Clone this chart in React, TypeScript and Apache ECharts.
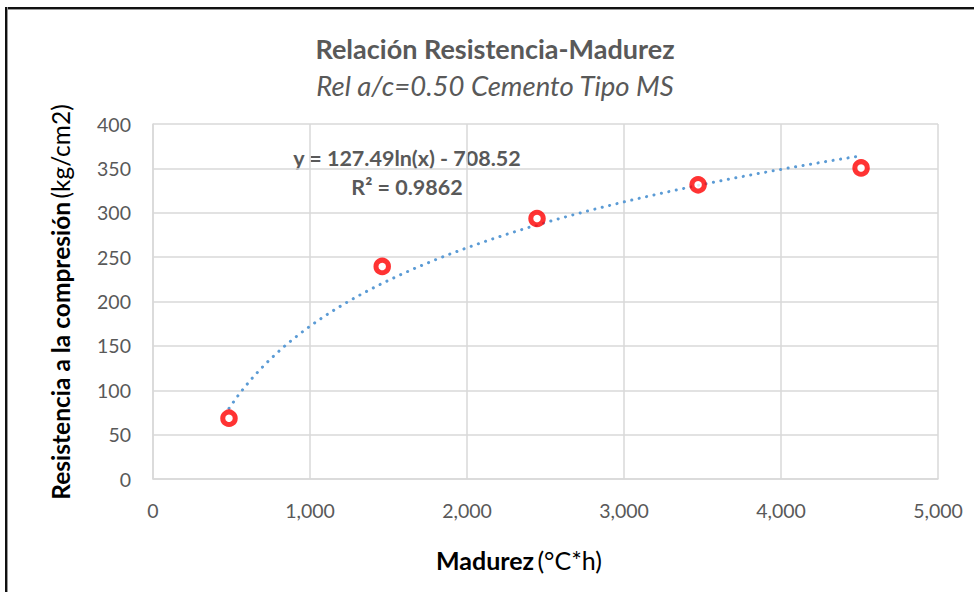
import React, { useEffect, useRef } from "react";
import * as echarts from "echarts";

const madurez = [484, 1460, 2446, 3472, 4510];
const resistencia = [68.5, 239.5, 293.5, 331.5, 350.5];
const trendA = 127.49;
const trendB = -708.52;
const xTicks = [0, 1000, 2000, 3000, 4000, 5000];

const FONT = "Lato, 'Open Sans', sans-serif";

export default function App() {
  const ref = useRef<HTMLDivElement>(null);
  useEffect(() => {
    if (!ref.current) return;
    const chart = echarts.init(ref.current, undefined, { renderer: "svg" });
    const xMin = madurez[0];
    const xMax = madurez[madurez.length - 1];
    const trend: number[][] = [];
    const n = 80;
    for (let i = 0; i <= n; i++) {
      const x = xMin + ((xMax - xMin) * i) / n;
      trend.push([x, trendA * Math.log(x) + trendB]);
    }
    chart.setOption({
      animation: false,
      backgroundColor: "#ffffff",
      textStyle: { fontFamily: FONT },
      grid: { left: 153, right: 36, top: 124, bottom: 113, containLabel: false },
      xAxis: {
        type: "value",
        min: xTicks[0],
        max: xTicks[xTicks.length - 1],
        interval: 1000,
        axisLine: { show: true, lineStyle: { color: "#D9D9D9", width: 1.5 } },
        axisTick: { show: false },
        splitLine: { show: true, lineStyle: { color: "#D9D9D9", width: 1.5 } },
        axisLabel: {
          color: "#595959",
          fontSize: 19.5,
          fontFamily: FONT,
          margin: 21,
          formatter: (v: number) => v.toLocaleString("en-US"),
        },
      },
      yAxis: {
        type: "value",
        min: 0,
        max: 400,
        interval: 50,
        axisLine: { show: true, lineStyle: { color: "#D9D9D9", width: 1.5 } },
        axisTick: { show: false },
        splitLine: { show: true, lineStyle: { color: "#D9D9D9", width: 1.5 } },
        axisLabel: { color: "#595959", fontSize: 19.5, fontFamily: FONT, margin: 22 },
      },
      series: [
        {
          type: "line",
          data: trend,
          showSymbol: false,
          symbol: "none",
          smooth: false,
          lineStyle: { color: "#5B9BD5", width: 3, type: [0.1, 7.5], cap: "round" },
          z: 2,
        },
        {
          type: "scatter",
          data: madurez.map((x, i) => [x, resistencia[i]]),
          symbol: "circle",
          symbolSize: 12.5,
          itemStyle: { color: "#ffffff", borderColor: "#FF0000", borderWidth: 5 },
          z: 3,
        },
      ],
      graphic: [
        {
          type: "text",
          x: 495,
          y: 48,
          style: {
            text: "Relación Resistencia-Madurez",
            fontFamily: FONT,
            fontWeight: "bold",
            fontSize: 27,
            fill: "#595959",
            align: "center",
            verticalAlign: "middle",
          },
        },
        {
          type: "text",
          x: 495,
          y: 85,
          style: {
            text: "Rel a/c=0.50 Cemento Tipo MS",
            fontFamily: FONT,
            fontStyle: "italic",
            fontSize: 27.5,
            fill: "#595959",
            align: "center",
            verticalAlign: "middle",
          },
        },
        {
          type: "text",
          x: 407,
          y: 158,
          style: {
            text: "y = 127.49ln(x) - 708.52",
            fontFamily: FONT,
            fontWeight: "bold",
            fontSize: 21.5,
            fill: "#595959",
            align: "center",
            verticalAlign: "middle",
          },
        },
        {
          type: "text",
          x: 407,
          y: 187,
          style: {
            text: "R² = 0.9862",
            fontFamily: FONT,
            fontWeight: "bold",
            fontSize: 21.5,
            fill: "#595959",
            align: "center",
            verticalAlign: "middle",
          },
        },
        {
          type: "text",
          x: 60,
          y: 302,
          rotation: Math.PI / 2,
          style: {
            text: "{b|Resistencia a la compresión} {n|(kg/cm2)}",
            align: "center",
            verticalAlign: "middle",
            rich: {
              b: { fontFamily: FONT, fontWeight: "bold", fontSize: 24.5, fill: "#000000" },
              n: { fontFamily: FONT, fontSize: 24.5, fill: "#000000" },
            },
          },
        },
        {
          type: "text",
          x: 519,
          y: 560,
          style: {
            text: "{b|Madurez} {n|(°C*h)}",
            align: "center",
            verticalAlign: "middle",
            rich: {
              b: { fontFamily: FONT, fontWeight: "bold", fontSize: 25, fill: "#000000" },
              n: { fontFamily: FONT, fontSize: 25, fill: "#000000" },
            },
          },
        },
      ],
    });
    return () => chart.dispose();
  }, []);
  return (
    <div
      style={{
        position: "fixed",
        left: 0,
        top: 0,
        width: 974,
        height: 592,
        background: "#fff",
      }}
    >
      <div
        ref={ref}
        style={{ position: "absolute", left: 0, top: 0, width: 974, height: 592 }}
      />
      <div
        style={{
          position: "absolute",
          left: 5,
          top: 7,
          width: 974 - 5,
          height: 2,
          background: "#111",
          borderBottom: "1px solid #999",
          pointerEvents: "none",
        }}
      />
      <div
        style={{
          position: "absolute",
          left: 5,
          top: 7,
          width: 2,
          height: 592 - 7,
          background: "#111",
          borderRight: "1px solid #999",
          pointerEvents: "none",
        }}
      />
    </div>
  );
}
